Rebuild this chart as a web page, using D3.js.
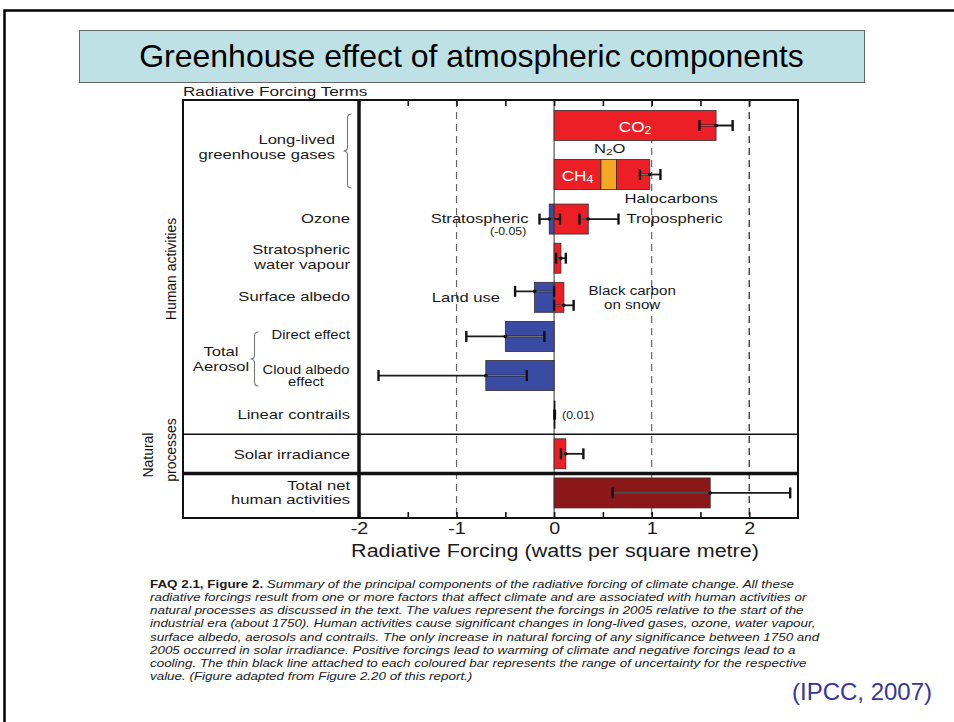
<!DOCTYPE html>
<html><head><meta charset="utf-8">
<script src="https://cdn.jsdelivr.net/npm/d3@7"></script>
<style>
body{margin:0;background:#fff}
svg{display:block}
text{font-family:"Liberation Sans",Arial,Helvetica,sans-serif}
</style>
</head><body>
<svg id="c" width="954" height="722"></svg>
<script>
// ---------------- DATA ----------------
const gasRows = ["CO2", "Long-lived greenhouse gases"];
const rows = ["Ozone", "Stratospheric water vapour", "Surface albedo", "Direct effect",
              "Cloud albedo effect", "Linear contrails", "Solar irradiance", "Total net human activities"];

// bar segments (stacked by sign within a row)
const segRows   = ["CO2", "Long-lived greenhouse gases", "Long-lived greenhouse gases", "Long-lived greenhouse gases",
                   "Ozone", "Ozone", "Stratospheric water vapour", "Surface albedo", "Surface albedo",
                   "Direct effect", "Cloud albedo effect", "Linear contrails", "Solar irradiance", "Total net human activities"];
const segNames  = ["CO2", "CH4", "N2O", "Halocarbons", "Stratospheric", "Tropospheric", "Stratospheric water vapour",
                   "Land use", "Black carbon on snow", "Direct effect", "Cloud albedo", "Linear contrails",
                   "Solar irradiance", "Total net"];
const segValues = [1.66, 0.48, 0.16, 0.34, -0.05, 0.35, 0.07, -0.20, 0.10, -0.50, -0.70, 0.01, 0.12, 1.60];
const segKinds  = ["warm", "warm", "n2o", "warm", "cool", "warm", "warm", "cool", "warm", "cool", "cool", "line", "warm", "total"];

// uncertainty ranges
const errRows = ["CO2", "Long-lived greenhouse gases", "Ozone", "Ozone", "Stratospheric water vapour",
                 "Surface albedo", "Surface albedo", "Direct effect", "Cloud albedo effect", "Solar irradiance",
                 "Total net human activities"];
const errMid  = [1.66, 0.98, -0.05, 0.35, 0.07, -0.20, 0.10, -0.50, -0.70, 0.12, 1.60];
const errLow  = [1.49, 0.88, -0.15, 0.26, 0.02, -0.40, 0.00, -0.90, -1.80, 0.07, 0.60];
const errHigh = [1.83, 1.09, 0.06, 0.66, 0.12, 0.00, 0.20, -0.10, -0.28, 0.30, 2.42];

const xTicks = [-2, -1.5, -1, -0.5, 0, 0.5, 1, 1.5, 2];
const xTickLabels = ["-2", "", "-1", "", "0", "", "1", "", "2"];
const dashedAt = [-1, 1, 2];

const title = "Greenhouse effect of atmospheric components";
const axisTitle = "Radiative Forcing  (watts per square metre)";
const captionBold = "FAQ 2.1, Figure 2.";
const captionLines = [
  " Summary of the principal components of the radiative forcing of climate change. All these",
  "radiative forcings result from one or more factors that affect climate and are associated with human activities or",
  "natural processes as discussed in the text. The values represent the forcings in 2005 relative to the start of the",
  "industrial era (about 1750). Human activities cause significant changes in long-lived gases, ozone, water vapour,",
  "surface albedo, aerosols and contrails. The only increase in natural forcing of any significance between 1750 and",
  "2005 occurred in solar irradiance. Positive forcings lead to warming of climate and negative forcings lead to a",
  "cooling. The thin black line attached to each coloured bar represents the range of uncertainty for the respective",
  "value. (Figure adapted from Figure 2.20 of this report.)"
];
const source = "(IPCC, 2007)";

// ---------------- LAYOUT / STYLE ----------------
const colors = {warm: "#ec1f26", cool: "#3a4ba3", n2o: "#f5a623", total: "#8c1719", line: "#111"};
const SX = 1.23;           // horizontal stretch of figure lettering
const BAR_H = 30;
const svg = d3.select("#c");

const x = d3.scaleLinear().domain([-2, 2.5]).range([359, 798]);
const yG = d3.scaleBand().domain(gasRows).range([101, 199]);
const yR = d3.scaleBand().domain(rows).range([199.5, 512.5]);
const yc = r => gasRows.includes(r) ? yG(r) + yG.bandwidth() / 2 : yR(r) + yR.bandwidth() / 2;

const FL = 183, FT = 100, FB = 518, FR = x.range()[1];

function T(g, px, py, s, o = {}) {
  const t = g.append("text")
    .attr("transform", `translate(${px},${py}) ${o.rot ? "rotate(-90)" : ""} scale(${o.sx ?? SX},1)`)
    .attr("text-anchor", o.anchor || "end")
    .attr("font-size", o.size || 13.5)
    .attr("fill", o.fill || "#1a1a1a");
  if (o.weight) t.attr("font-weight", o.weight);
  if (o.style) t.attr("font-style", o.style);
  if (Array.isArray(s)) {
    s.forEach(p => {
      const ts = t.append("tspan").text(p.t);
      if (p.sub) ts.attr("baseline-shift", "-28%").attr("font-size", "72%");
    });
  } else t.text(s);
  return t;
}

// outer slide frame
svg.append("rect").attr("x", 4.5).attr("y", 10.5).attr("width", 1000).attr("height", 1000)
  .attr("fill", "none").attr("stroke", "#000").attr("stroke-width", 2.5);

// title box
svg.append("rect").attr("x", 79.5).attr("y", 30.5).attr("width", 785).attr("height", 52)
  .attr("fill", "#bde1e4").attr("stroke", "#666").attr("stroke-width", 1);
T(svg, 471.5, 67, title, {anchor: "middle", size: 32, sx: 1, fill: "#000"});

// "Radiative Forcing Terms"
T(svg, FL, 96, "Radiative Forcing Terms", {anchor: "start", size: 12.5, sx: 1.37});

const g = svg.append("g");

// dashed grid lines
g.selectAll(".dash").data(dashedAt).join("line")
  .attr("x1", d => x(d)).attr("x2", d => x(d)).attr("y1", FT).attr("y2", FB)
  .attr("stroke", d => d === 2 ? "#222" : "#666").attr("stroke-width", 1.2).attr("stroke-dasharray", "7,5");

// zero line
g.append("line").attr("x1", x(0)).attr("x2", x(0)).attr("y1", FT).attr("y2", FB)
  .attr("stroke", "#555").attr("stroke-width", 1.2);

// bars (stack by sign within row)
const acc = {};
const segs = segValues.map((v, i) => {
  const r = segRows[i];
  acc[r] = acc[r] || {pos: 0, neg: 0};
  let a, b;
  if (v >= 0) { a = acc[r].pos; b = a + v; acc[r].pos = b; }
  else { a = acc[r].neg; b = a + v; acc[r].neg = b; }
  return {row: r, name: segNames[i], v, x0: Math.min(a, b), x1: Math.max(a, b), kind: segKinds[i]};
});

g.selectAll(".bar").data(segs.filter(d => d.kind !== "line")).join("rect")
  .attr("x", d => x(d.x0)).attr("width", d => x(d.x1) - x(d.x0))
  .attr("y", d => yc(d.row) - BAR_H / 2).attr("height", BAR_H)
  .attr("fill", d => colors[d.kind]).attr("stroke", "#3a2a2a").attr("stroke-width", 0.8);

// linear contrail mark
g.selectAll(".ln").data(segs.filter(d => d.kind === "line")).join("rect")
  .attr("x", d => x(d.x0) - 1).attr("width", d => Math.max(3, x(d.x1) - x(d.x0)))
  .attr("y", d => yc(d.row) - 5).attr("height", 10).attr("fill", colors.line);
g.selectAll(".ln2").data(segs.filter(d => d.kind === "line")).join("line")
  .attr("x1", d => x(d.x0) + 0.5).attr("x2", d => x(d.x0) + 0.5)
  .attr("y1", d => yc(d.row) - 14).attr("y2", d => yc(d.row) + 14)
  .attr("stroke", "#111").attr("stroke-width", 1.6);

// error bars
const errs = errMid.map((m, i) => {
  const r = errRows[i];
  let dy = 0;
  if (r === "Surface albedo") dy = m < 0 ? -6 : 8;
  return {row: r, mid: m, lo: errLow[i], hi: errHigh[i], y: yc(r) + dy};
});
const eg = g.selectAll(".err").data(errs).join("g");
eg.append("line").attr("x1", d => x(d.lo)).attr("x2", d => x(d.hi)).attr("y1", d => d.y).attr("y2", d => d.y)
  .attr("stroke", "#1a1a1a").attr("stroke-width", 1.8);
eg.append("line").attr("x1", d => x(Math.max(d.lo, Math.min(0, d.mid)))).attr("x2", d => x(Math.min(d.hi, Math.max(0, d.mid))))
  .attr("y1", d => d.y).attr("y2", d => d.y)
  .attr("stroke", "#9a9a9a").attr("stroke-width", 0.7);
eg.selectAll(".cap").data(d => [d.lo, d.hi].map(v => ({v, y: d.y}))).join("line")
  .attr("x1", c => x(c.v)).attr("x2", c => x(c.v)).attr("y1", c => c.y - 5.5).attr("y2", c => c.y + 5.5)
  .attr("stroke", "#111").attr("stroke-width", 2.4);
eg.append("circle").attr("cx", d => x(d.mid)).attr("cy", d => d.y).attr("r", 1.8).attr("fill", "#111");

// frame
const fr = svg.append("g").attr("stroke", "#111").attr("fill", "none");
fr.append("rect").attr("x", FL).attr("y", FT).attr("width", FR - FL).attr("height", FB - FT).attr("stroke-width", 2);
fr.append("line").attr("x1", x(-2)).attr("x2", x(-2)).attr("y1", FT).attr("y2", FB).attr("stroke-width", 3.5);
fr.append("line").attr("x1", FL).attr("x2", FR).attr("y1", yR("Solar irradiance")).attr("y2", yR("Solar irradiance")).attr("stroke-width", 1.6);
fr.append("line").attr("x1", FL).attr("x2", FR).attr("y1", yR("Total net human activities")).attr("y2", yR("Total net human activities")).attr("stroke-width", 3.5);

// axes
const axB = svg.append("g").attr("transform", `translate(0,${FB})`)
  .call(d3.axisBottom(x).tickValues(xTicks).tickSize(-6).tickSizeOuter(0).tickPadding(5)
    .tickFormat((d, i) => xTickLabels[i]));
axB.select(".domain").remove();
axB.selectAll(".tick line").attr("stroke", "#111").attr("stroke-width", 1.6);
axB.selectAll(".tick text").attr("font-size", 16).attr("fill", "#1a1a1a")
  .attr("font-family", '"Liberation Sans",Arial,sans-serif').attr("transform", `scale(${SX},1)`);
const axT = svg.append("g").attr("transform", `translate(0,${FT})`)
  .call(d3.axisTop(x).tickValues(xTicks).tickSize(-6).tickSizeOuter(0).tickFormat(""));
axT.select(".domain").remove();
axT.selectAll(".tick line").attr("stroke", "#111").attr("stroke-width", 1.6);

T(svg, 555, 557, axisTitle, {anchor: "middle", size: 17.5});

// row labels
const LX = 350;
const L = svg.append("g");
T(L, 335, yc("Long-lived greenhouse gases") - 31, "Long-lived");
T(L, 335, yc("Long-lived greenhouse gases") - 16, "greenhouse gases");
T(L, LX, yc("Ozone") + 4, "Ozone");
T(L, LX, yc("Stratospheric water vapour") - 4, "Stratospheric");
T(L, LX, yc("Stratospheric water vapour") + 11, "water vapour");
T(L, LX, yc("Surface albedo") + 4, "Surface albedo");
T(L, LX, yc("Direct effect") + 3, "Direct effect", {size: 12});
T(L, 306, yc("Cloud albedo effect") - 2, "Cloud albedo", {anchor: "middle", size: 12});
T(L, 306, yc("Cloud albedo effect") + 10, "effect", {anchor: "middle", size: 12});
T(L, 221, yc("Direct effect") + 20, "Total", {anchor: "middle"});
T(L, 221, yc("Direct effect") + 35, "Aerosol", {anchor: "middle"});
T(L, LX, yc("Linear contrails") + 4, "Linear contrails");
T(L, LX, yc("Solar irradiance") + 5, "Solar irradiance");
T(L, LX, yc("Total net human activities") - 3, "Total net");
T(L, LX, yc("Total net human activities") + 11, "human activities");

// braces
function brace(x0, y0, y1, w) {
  const ym = (y0 + y1) / 2;
  return `M${x0 + w},${y0} Q${x0},${y0} ${x0},${y0 + w} L${x0},${ym - w} Q${x0},${ym} ${x0 - w},${ym}` +
         ` Q${x0},${ym} ${x0},${ym + w} L${x0},${y1 - w} Q${x0},${y1} ${x0 + w},${y1}`;
}
svg.append("path").attr("d", brace(347.5, 114, 188, 4)).attr("fill", "none").attr("stroke", "#777").attr("stroke-width", 1.1);
svg.append("path").attr("d", brace(254.5, 332, 386, 4)).attr("fill", "none").attr("stroke", "#777").attr("stroke-width", 1.1);

// group labels (rotated)
T(svg, 176, 269, "Human activities", {rot: true, anchor: "middle", size: 15.5, sx: 0.9, fill: "#111"});
T(svg, 153, 455, "Natural", {rot: true, anchor: "middle", size: 15.5, sx: 0.9, fill: "#111"});
T(svg, 176, 450, "processes", {rot: true, anchor: "middle", size: 15.5, sx: 0.9, fill: "#111"});

// in-plot labels
const P = svg.append("g");
T(P, x(0.83), yc("CO2") + 6, [{t: "CO"}, {t: "2", sub: true}], {anchor: "middle", fill: "#fff", size: 14});
T(P, x(0.24), yc("Long-lived greenhouse gases") + 6, [{t: "CH"}, {t: "4", sub: true}], {anchor: "middle", fill: "#fff", size: 14});
T(P, x(0.57), yc("Long-lived greenhouse gases") - 22, [{t: "N"}, {t: "2", sub: true}, {t: "O"}], {anchor: "middle", size: 13.5});
T(P, x(1.2), yc("Long-lived greenhouse gases") + 28, "Halocarbons", {anchor: "middle", size: 13.5});
T(P, x(-0.15) - 11, yc("Ozone") + 4, "Stratospheric", {anchor: "end", size: 13.5});
T(P, x(-0.05) - 23, yc("Ozone") + 16, "(-0.05)", {anchor: "end", size: 10});
T(P, x(0.66) + 8, yc("Ozone") + 4, "Tropospheric", {anchor: "start", size: 13.5});
T(P, x(-0.4) - 15, yc("Surface albedo") + 5, "Land use", {anchor: "end", size: 13.5});
T(P, x(0.8), yc("Surface albedo") - 2, "Black carbon", {anchor: "middle", size: 12.3});
T(P, x(0.8), yc("Surface albedo") + 12, "on snow", {anchor: "middle", size: 12.3});
T(P, x(0.01) + 7, yc("Linear contrails") + 4, "(0.01)", {anchor: "start", size: 10});

// caption
const capY0 = 588, capDy = 13.15;
captionLines.forEach((s, i) => {
  const t = svg.append("text").attr("transform", `translate(150,${capY0 + i * capDy}) scale(${SX},1)`)
    .attr("font-size", 10.9).attr("fill", "#1a1a1a");
  if (i === 0) t.append("tspan").attr("font-weight", "bold").text(captionBold);
  t.append("tspan").attr("font-style", "italic").text(s);
});

// source
T(svg, 792, 700, source, {anchor: "start", size: 24, sx: 1, fill: "#35379a"});
</script>
</body></html>
